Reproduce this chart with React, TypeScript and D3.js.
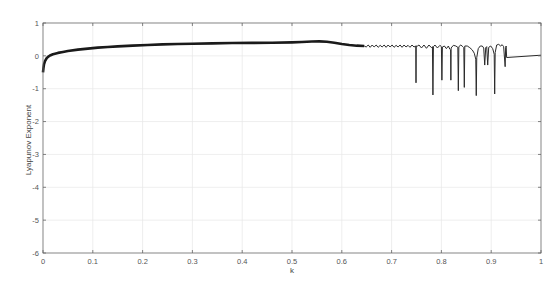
import { useEffect, useRef } from "react";
import * as d3 from "d3";

// smooth, densely sampled part (drawn as a thick band)
const kBand = [0, 0.001, 0.002, 0.004, 0.007, 0.01, 0.014, 0.02, 0.03, 0.04, 0.05, 0.07, 0.09, 0.11, 0.13, 0.15, 0.18, 0.21, 0.24, 0.27, 0.3, 0.34, 0.38, 0.42, 0.46, 0.5, 0.52, 0.54, 0.555, 0.57, 0.585, 0.6, 0.615, 0.63, 0.645];
const lambdaBand = [-0.5, -0.36, -0.26, -0.16, -0.08, -0.03, 0.01, 0.05, 0.09, 0.12, 0.15, 0.19, 0.22, 0.25, 0.27, 0.29, 0.31, 0.33, 0.35, 0.36, 0.37, 0.38, 0.39, 0.395, 0.4, 0.41, 0.42, 0.435, 0.44, 0.43, 0.4, 0.36, 0.33, 0.31, 0.3];

// oscillating part with periodic windows
const kDetail = [
  0.645, 0.649, 0.653, 0.657, 0.661, 0.665, 0.669, 0.673, 0.677, 0.681, 0.685, 0.689, 0.693,
  0.697, 0.701, 0.705, 0.709, 0.713, 0.717, 0.721, 0.725, 0.729, 0.733, 0.737, 0.741, 0.745,
  0.7485, 0.749, 0.7495, 0.752, 0.755, 0.76, 0.765, 0.77, 0.775, 0.78, 0.782, 0.783, 0.784,
  0.787, 0.792, 0.797, 0.8, 0.801, 0.802, 0.806, 0.81, 0.814, 0.817, 0.8185, 0.819, 0.8195,
  0.824, 0.829, 0.833, 0.834, 0.835, 0.839, 0.843, 0.845, 0.846, 0.847, 0.852, 0.857, 0.862,
  0.866, 0.869, 0.87, 0.871, 0.874, 0.878, 0.882, 0.885, 0.887, 0.889, 0.891, 0.893, 0.895,
  0.899, 0.903, 0.906, 0.907, 0.908, 0.911, 0.915, 0.919, 0.922, 0.925, 0.928, 0.929, 0.93,
  0.931, 1.0,
];
const lambdaDetail = [
  0.3, 0.27, 0.33, 0.26, 0.33, 0.27, 0.33, 0.26, 0.32, 0.27, 0.33, 0.26, 0.33,
  0.27, 0.33, 0.26, 0.32, 0.27, 0.33, 0.26, 0.33, 0.27, 0.32, 0.26, 0.33, 0.27,
  0.3, -0.82, 0.3, 0.3, 0.33, 0.24, 0.33, 0.23, 0.33, 0.25, 0.28, -1.19, 0.28,
  0.33, 0.24, 0.32, 0.28, -0.74, 0.27, 0.3, 0.22, 0.3, 0.2, 0.18, -0.74, 0.24,
  0.32, 0.3, 0.26, -1.06, 0.28, 0.33, 0.28, 0.25, -0.96, 0.3, 0.3, 0.25, 0.18,
  0.08, -0.1, -1.21, -0.05, 0.22, 0.3, 0.3, 0.24, -0.28, 0.25, 0.28, -0.28, 0.26,
  0.3, 0.22, 0.05, -1.16, 0.1, 0.33, 0.35, 0.3, 0.34, 0.28, -0.33, 0.25, 0.3,
  -0.05, 0.02,
];

const xTicks = [0, 0.1, 0.2, 0.3, 0.4, 0.5, 0.6, 0.7, 0.8, 0.9, 1];
const yTicks = [1, 0, -1, -2, -3, -4, -5, -6];

export default function App() {
  const svgRef = useRef<SVGSVGElement>(null);

  useEffect(() => {
    const svg = d3.select(svgRef.current);
    svg.selectAll("*").remove();

    const left = 43, right = 541, top = 23, bottom = 253;
    const font = "'Liberation Sans', Arial, sans-serif";

    const x = d3.scaleLinear().domain([0, 1]).range([left, right]);
    const y = d3.scaleLinear().domain([-6, 1]).range([bottom, top]);

    svg.append("rect").attr("width", 550).attr("height", 283).attr("fill", "#fff");

    // grid
    const grid = svg.append("g").attr("stroke", "#e6e6e6").attr("stroke-width", 0.7);
    xTicks.slice(1, -1).forEach(t => {
      grid.append("line").attr("x1", x(t)).attr("x2", x(t)).attr("y1", top).attr("y2", bottom);
    });
    yTicks.slice(1, -1).forEach(t => {
      grid.append("line").attr("x1", left).attr("x2", right).attr("y1", y(t)).attr("y2", y(t));
    });

    // data
    const bandLine = d3.line<number>()
      .x((_, i) => x(kBand[i]))
      .y(d => y(d));
    const detailLine = d3.line<number>()
      .x((_, i) => x(kDetail[i]))
      .y(d => y(d));

    svg.append("path")
      .attr("d", bandLine(lambdaBand))
      .attr("fill", "none")
      .attr("stroke", "#1a1a1a")
      .attr("stroke-width", 2.6)
      .attr("stroke-linejoin", "round");
    svg.append("path")
      .attr("d", detailLine(lambdaDetail))
      .attr("fill", "none")
      .attr("stroke", "#2a2a2a")
      .attr("stroke-width", 1)
      .attr("stroke-linejoin", "round");

    // box
    svg.append("rect")
      .attr("x", left).attr("y", top)
      .attr("width", right - left).attr("height", bottom - top)
      .attr("fill", "none").attr("stroke", "#666").attr("stroke-width", 0.8);

    // ticks
    const ticks = svg.append("g").attr("stroke", "#666").attr("stroke-width", 0.8);
    xTicks.forEach(t => {
      ticks.append("line").attr("x1", x(t)).attr("x2", x(t)).attr("y1", bottom).attr("y2", bottom - 3);
      ticks.append("line").attr("x1", x(t)).attr("x2", x(t)).attr("y1", top).attr("y2", top + 3);
    });
    yTicks.forEach(t => {
      ticks.append("line").attr("x1", left).attr("x2", left + 3).attr("y1", y(t)).attr("y2", y(t));
      ticks.append("line").attr("x1", right).attr("x2", right - 3).attr("y1", y(t)).attr("y2", y(t));
    });

    // tick labels
    svg.append("g").selectAll("text").data(xTicks).enter().append("text")
      .attr("x", d => x(d)).attr("y", 264)
      .attr("text-anchor", "middle")
      .attr("font-family", font).attr("font-size", 7.5).attr("fill", "#555")
      .text(d => String(d));
    svg.append("g").selectAll("text").data(yTicks).enter().append("text")
      .attr("x", 39).attr("y", d => y(d) + 2.7)
      .attr("text-anchor", "end")
      .attr("font-family", font).attr("font-size", 7.5).attr("fill", "#555")
      .text(d => String(d));

    // axis labels
    svg.append("text")
      .attr("x", (left + right) / 2).attr("y", 273)
      .attr("text-anchor", "middle")
      .attr("font-family", font).attr("font-size", 8).attr("fill", "#444")
      .text("k");
    svg.append("text")
      .attr("transform", `translate(30.5,${(top + bottom) / 2 + 2}) rotate(-90)`)
      .attr("text-anchor", "middle")
      .attr("font-family", font).attr("font-size", 8).attr("fill", "#444")
      .text("Lyapunov Exponent");
  }, []);

  return (
    <svg
      ref={svgRef}
      width={550}
      height={283}
      style={{ position: "absolute", left: 0, top: 0 }}
    />
  );
}
